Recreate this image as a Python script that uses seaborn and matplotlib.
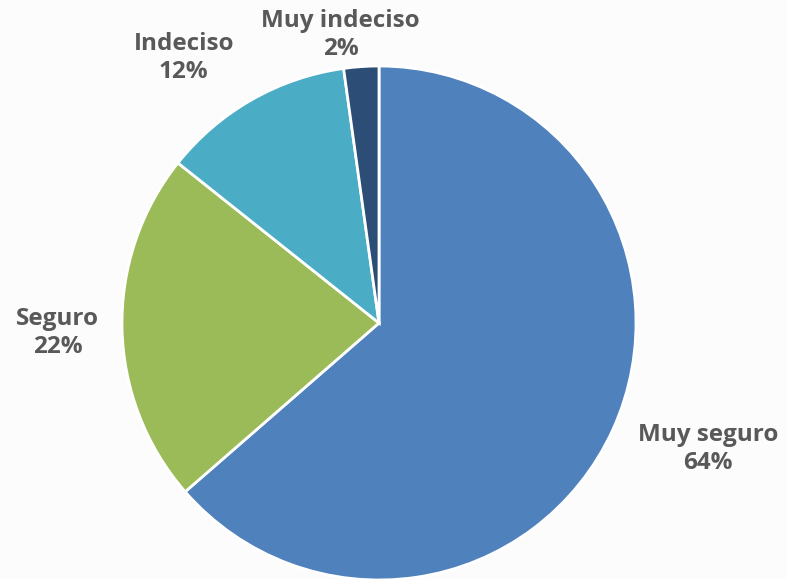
import numpy as np
import pandas as pd
import matplotlib
matplotlib.use("Agg")
import matplotlib.pyplot as plt
import seaborn as sns

sns.set_style("white")
plt.rcParams['font.family'] = ['Open Sans', 'DejaVu Sans']

# data (shares; labels show rounded percents)
categories = ["Muy seguro", "Seguro", "Indeciso", "Muy indeciso"]
values = [63.6, 22.1, 12.1, 2.2]
colors = ["#4f81bd", "#9bbb59", "#4bacc6", "#2c4d75"]

# label placement (data units, pie radius = 1)
label_pos = [(1.28, -0.49), (-1.25, -0.04), (-0.76, 1.03), (-0.15, 1.12)]

fig = plt.figure(figsize=(7.86, 5.79), dpi=100)
fig.patch.set_facecolor("#fcfcfc")
ax = fig.add_axes([0, 0, 1, 1])
ax.set_facecolor("#fcfcfc")

ax.pie(values, colors=colors, startangle=90, counterclock=False,
       radius=1, center=(0, 0), frame=False,
       wedgeprops={"edgecolor": "white", "linewidth": 2})

# pixel mapping: center at (379, 323), radius 257 px
ax.set_xlim(-379 / 257, (786 - 379) / 257)
ax.set_ylim(-(579 - 323) / 257, 323 / 257)
ax.set_aspect("auto")
ax.axis("off")

for cat, val, (x, y) in zip(categories, values, label_pos):
    ax.text(x, y, f"{cat}\n{round(val)}%", ha="center", va="center",
            fontsize=17.5, fontweight="bold", color="#595959", linespacing=1.2)

plt.savefig("out.png", dpi=100, facecolor=fig.get_facecolor())
